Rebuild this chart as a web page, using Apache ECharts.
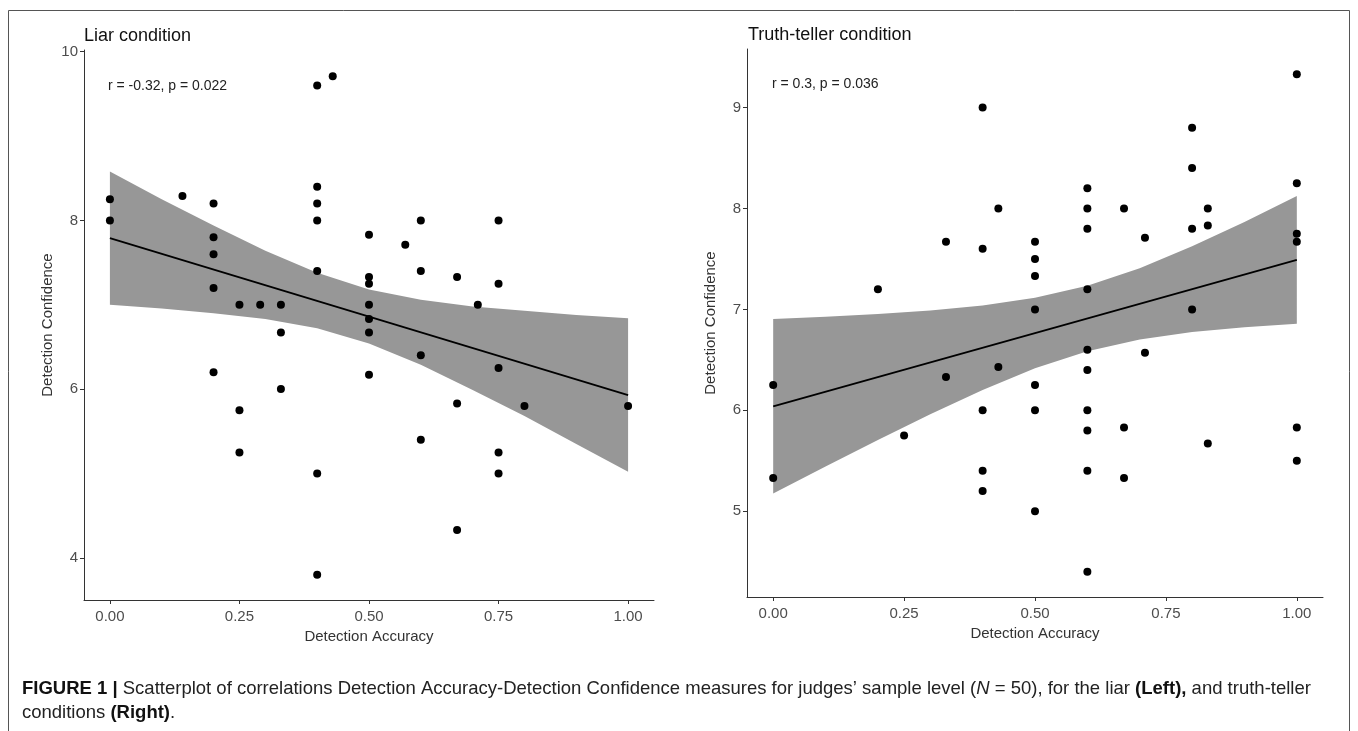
<!DOCTYPE html>
<html>
<head>
<meta charset="utf-8">
<title>Detection accuracy vs confidence</title>
<script src="https://cdn.jsdelivr.net/npm/echarts@6/dist/echarts.min.js"></script>
<style>
  html, body { width: 100%; height: 100%; margin: 0; padding: 0; background: #fff; }
  #main { width: 1358px; height: 731px; }
</style>
</head>
<body>
<div id="main"></div>
<script>
// tick labels
var xTicks = [0, 0.25, 0.5, 0.75, 1];
var liarYTicks = [4, 6, 8, 10];
var truthYTicks = [5, 6, 7, 8, 9];

// liar condition: judges' accuracy / confidence
var liarAccuracy = [0, 0, 0.14, 0.2, 0.2, 0.2, 0.2, 0.2, 0.25, 0.25, 0.25, 0.29, 0.33, 0.33, 0.33,
  0.4, 0.4, 0.4, 0.4, 0.4, 0.4, 0.4, 0.43, 0.5, 0.5, 0.5, 0.5, 0.5, 0.5, 0.5, 0.57,
  0.6, 0.6, 0.6, 0.6, 0.67, 0.67, 0.67, 0.71, 0.75, 0.75, 0.75, 0.75, 0.75, 0.8, 1];
var liarConfidence = [8.25, 8, 8.29, 8.2, 7.8, 7.6, 7.2, 6.2, 7, 5.75, 5.25, 7, 7, 6.67, 6,
  9.6, 8.4, 8.2, 8, 7.4, 5, 3.8, 9.71, 7.83, 7.33, 7.25, 7, 6.83, 6.67, 6.17, 7.71,
  8, 7.4, 6.4, 5.4, 7.33, 5.83, 4.33, 7, 8, 7.25, 6.25, 5.25, 5, 5.8, 5.8];

// truth-teller condition
var truthAccuracy = [0, 0, 0.2, 0.25, 0.33, 0.33, 0.4, 0.4, 0.4, 0.4, 0.4, 0.43, 0.43,
  0.5, 0.5, 0.5, 0.5, 0.5, 0.5, 0.5, 0.6, 0.6, 0.6, 0.6, 0.6, 0.6, 0.6, 0.6, 0.6, 0.6,
  0.67, 0.67, 0.67, 0.71, 0.71, 0.8, 0.8, 0.8, 0.8, 0.83, 0.83, 0.83, 1, 1, 1, 1, 1, 1];
var truthConfidence = [6.25, 5.33, 7.2, 5.75, 7.67, 6.33, 9, 7.6, 6, 5.4, 5.2, 8, 6.43,
  7.67, 7.5, 7.33, 7, 6.25, 6, 5, 8.2, 8, 7.8, 7.2, 6.6, 6.4, 6, 5.8, 5.4, 4.4,
  8, 5.83, 5.33, 7.71, 6.57, 8.8, 8.4, 7.8, 7, 8, 7.83, 5.67, 9.33, 8.25, 7.75, 7.67, 5.83, 5.5];

// fitted line end points and confidence band
var fitX = [0, 1];
var liarFit = [7.79, 5.93];
var truthFit = [6.04, 7.49];
var bandX = [0, 0.1, 0.2, 0.3, 0.4, 0.5, 0.6, 0.7, 0.8, 0.9, 1];
var liarUpper = [8.58, 8.25, 7.94, 7.64, 7.38, 7.18, 7.06, 6.98, 6.93, 6.88, 6.84];
var liarLower = [7.0, 6.955, 6.90, 6.83, 6.72, 6.54, 6.29, 5.99, 5.68, 5.35, 5.02];
var truthUpper = [6.905, 6.927, 6.954, 6.988, 7.038, 7.114, 7.234, 7.408, 7.625, 7.867, 8.123];
var truthLower = [5.175, 5.443, 5.706, 5.962, 6.202, 6.416, 6.586, 6.702, 6.775, 6.823, 6.857];

var myChart = echarts.init(document.getElementById('main'));

function zip(a, b) {
  return a.map(function (v, i) { return [v, b[i]]; });
}

function bandSeries(idx, upper, lower) {
  return {
    type: 'custom',
    xAxisIndex: idx,
    yAxisIndex: idx,
    silent: true,
    z: 1,
    data: [0],
    renderItem: function (params, api) {
      var pts = [];
      for (var i = 0; i < bandX.length; i++) pts.push(api.coord([bandX[i], upper[i]]));
      for (var j = bandX.length - 1; j >= 0; j--) pts.push(api.coord([bandX[j], lower[j]]));
      return {
        type: 'polygon',
        shape: { points: pts },
        style: { fill: '#979797', stroke: null }
      };
    }
  };
}

var textFont = 'Liberation Sans, Arial, Helvetica, sans-serif';
var axisFont = { color: '#4d4d4d', fontSize: 15, fontFamily: textFont };
var nameFont = { color: '#333', fontSize: 15, fontFamily: textFont };

function xAxis(idx) {
  return {
    type: 'value', gridIndex: idx, min: -0.05, max: 1.05,
    name: 'Detection Accuracy', nameLocation: 'middle', nameGap: 28, nameTextStyle: nameFont,
    splitLine: { show: false },
    axisLine: { onZero: false, lineStyle: { color: '#333', width: 1 } },
    axisTick: { length: 4, lineStyle: { color: '#333' }, customValues: xTicks },
    axisLabel: Object.assign({ margin: 9, customValues: xTicks, formatter: function (v) { return v.toFixed(2); } }, axisFont)
  };
}

function yAxis(idx, min, max, ticks) {
  return {
    type: 'value', gridIndex: idx, min: min, max: max,
    name: 'Detection Confidence', nameLocation: 'middle', nameGap: 29, nameTextStyle: nameFont,
    splitLine: { show: false },
    axisLine: { show: true, onZero: false, lineStyle: { color: '#333', width: 1 } },
    axisTick: { show: true, length: 4, lineStyle: { color: '#333' }, customValues: ticks },
    axisLabel: Object.assign({ margin: 6, customValues: ticks }, axisFont)
  };
}

myChart.setOption({
  animation: false,
  grid: [
    { left: 84, right: 704, top: 50, bottom: 131 },
    { left: 747, right: 35, top: 49, bottom: 134 }
  ],
  xAxis: [xAxis(0), xAxis(1)],
  yAxis: [yAxis(0, 3.5, 10.02, liarYTicks), yAxis(1, 4.15, 9.58, truthYTicks)],
  graphic: [
    { type: 'rect', shape: { x: 8.5, y: 10.5, width: 1341, height: 740 }, style: { fill: null, stroke: '#555', lineWidth: 1 }, silent: true },
    { type: 'text', left: 84, top: 27, style: { text: 'Liar condition', fontSize: 18, fontFamily: textFont, fill: '#111' } },
    { type: 'text', left: 748, top: 26, style: { text: 'Truth-teller condition', fontSize: 18, fontFamily: textFont, fill: '#111' } },
    { type: 'text', left: 108, top: 79, style: { text: 'r = -0.32, p = 0.022', fontSize: 14, fontFamily: textFont, fill: '#222' } },
    { type: 'text', left: 772, top: 77, style: { text: 'r = 0.3, p = 0.036', fontSize: 14, fontFamily: textFont, fill: '#222' } },
    {
      type: 'text', left: 22, top: 677,
      style: {
        text: '{b|FIGURE 1 |} Scatterplot of correlations Detection Accuracy-Detection Confidence measures for judges\u2019 sample level ({i|N} = 50), for the liar {b|(Left),} and truth-teller\nconditions {b|(Right)}.',
        fontSize: 18.5, fontFamily: textFont, fill: '#222', lineHeight: 24,
        rich: {
          b: { fontWeight: 'bold', fontSize: 18.5, fontFamily: textFont, fill: '#111', lineHeight: 24 },
          i: { fontStyle: 'italic', fontSize: 18.5, fontFamily: textFont, fill: '#222', lineHeight: 24 }
        }
      }
    }
  ],
  series: [
    bandSeries(0, liarUpper, liarLower),
    bandSeries(1, truthUpper, truthLower),
    {
      type: 'line', xAxisIndex: 0, yAxisIndex: 0, data: zip(fitX, liarFit), symbol: 'none', z: 2,
      lineStyle: { color: '#000', width: 1.8 }, silent: true
    },
    {
      type: 'line', xAxisIndex: 1, yAxisIndex: 1, data: zip(fitX, truthFit), symbol: 'none', z: 2,
      lineStyle: { color: '#000', width: 1.8 }, silent: true
    },
    {
      type: 'scatter', xAxisIndex: 0, yAxisIndex: 0, data: zip(liarAccuracy, liarConfidence),
      symbolSize: 8, itemStyle: { color: '#000', opacity: 1 }, z: 3
    },
    {
      type: 'scatter', xAxisIndex: 1, yAxisIndex: 1, data: zip(truthAccuracy, truthConfidence),
      symbolSize: 8, itemStyle: { color: '#000', opacity: 1 }, z: 3
    }
  ]
});

window.addEventListener('resize', function () {
  myChart.resize();
});
</script>
</body>
</html>
